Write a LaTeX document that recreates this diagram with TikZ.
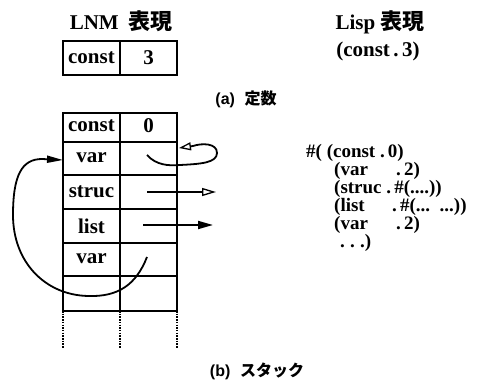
\documentclass[tikz,border=0pt]{standalone}
\usepackage{fontspec}
\setmainfont{Liberation Serif}
\newfontfamily\hsans{Liberation Sans}
\newfontfamily\jpb{Noto Sans CJK JP Bold}
\usetikzlibrary{arrows.meta}
\begin{document}
\begin{tikzpicture}[x=1pt,y=-1pt,
  grid/.style={line width=1.5pt},
  dotline/.style={line width=1.5pt,dash pattern=on 1.5pt off 1.2pt},
  lbl/.style={inner sep=0pt,font=\fontsize{21}{21}\selectfont\bfseries},
  lisp/.style={inner sep=0pt,anchor=west,font=\fontsize{19}{19}\selectfont\bfseries},
  captxt/.style={inner sep=0pt,font=\fontsize{16}{16}\selectfont\hsans\bfseries},
  conn/.style={line width=1.8pt}]
\useasboundingbox (0,0) rectangle (485,385);

% headings
\node[lbl] (hlnm) at (121,21) {LNM\hspace{0.45em}{\fontsize{22}{22}\jpb 表現}};
\node[lbl] (hlisp) at (380,22) {Lisp\hspace{0.25em}{\fontsize{22}{22}\jpb 表現}};

% (a) constant
\draw[grid] (63,41) rectangle (177,75);
\draw[grid] (120,41) -- (120,75);
\node[lbl] (aconst) at (91.5,58) {const};
\node[lbl] (athree) at (148.5,58) {3};
\node[lbl] (alisp) at (378,51) {(const\,.\,3)};
\node[captxt] (acap) at (246,99) {(a)\hspace{0.6em}{\jpb 定数}};

% (b) stack frame
\draw[grid] (63,113) rectangle (177,311);
\draw[grid] (120,113) -- (120,311);
\foreach \yy in {142,175,209,243,276}
  \draw[grid] (63,\yy) -- (177,\yy);
\foreach \xx in {63,120,177}
  \draw[dotline] (\xx,311) -- (\xx,348);

\node[lbl] (s1) at (91.5,126) {const};
\node[lbl] (v1) at (148.5,126) {0};
\node[lbl] (s2) at (91.5,158) {var};
\node[lbl] (s3) at (91.5,192) {struc};
\node[lbl] (s4) at (91.5,226) {list};
\node[lbl] (s5) at (91.5,259) {var};

% connector end points inside the value cells
\coordinate (p2) at (147,155);
\coordinate (q2) at (179,148);
\coordinate (p3) at (147,192);
\coordinate (q3) at (216,192);
\coordinate (p4) at (143,225);
\coordinate (q4) at (213,225);
\coordinate (p5) at (147,257);
\coordinate (q5) at (63,160);

% var -> self loop
\draw[conn,-{Triangle[open,length=12pt,width=8pt,line width=1.3pt]}]
  (p2) .. controls (156,165) and (168,166) .. (180,165)
  .. controls (200,164) and (217,163) .. (217,153)
  .. controls (217,143) and (202,143) .. (193,146) -- (q2);
% struc and list pointers
\draw[conn,-{Triangle[open,length=14pt,width=8pt,line width=1.3pt]}] (p3) -- (q3);
\draw[conn,-{Triangle[length=15pt,width=8pt]}] (p4) -- (q4);
% var -> var (back reference)
\draw[conn,-{Triangle[length=16pt,width=7pt]}]
  (p5) .. controls (136,285) and (118,297) .. (88,296)
  .. controls (45,295) and (13,262) .. (13,215)
  .. controls (13,175) and (22,159) .. (42,159) -- (q5);

% Lisp form of the stack
\node[lisp] (l1) at (306,153) {\#(\ (const\ .\,0)};
\node[lisp] (l2a) at (334,171) {(var};
\node[lisp] (l2b) at (396,171) {.\,2)};
\node[lisp] (l3) at (334,189) {(struc\ .\,\#(....))};
\node[lisp] (l4a) at (334,207) {(list};
\node[lisp] (l4b) at (392,207) {.\,\#(...\enspace...))};
\node[lisp] (l5a) at (334,225) {(var};
\node[lisp] (l5b) at (396,225) {.\,2)};
\node[lisp] (l6) at (340,243) {.\;.\;.)};

\node[captxt] (bcap) at (257,371) {(b)\hspace{0.6em}{\jpb スタック}};
\end{tikzpicture}
\end{document}
